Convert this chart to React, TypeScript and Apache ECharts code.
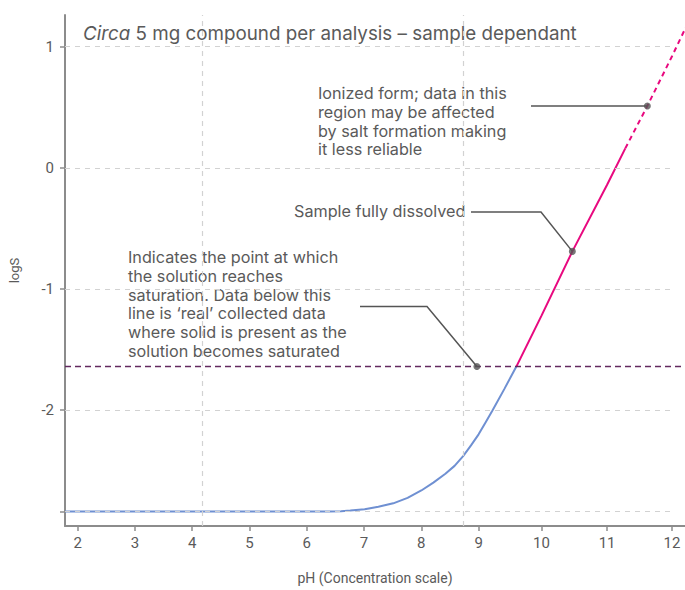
import React, { useEffect, useRef } from "react";
import * as echarts from "echarts";

// pH tick marks and the relative width of each unit step on the concentration scale
const PH_TICKS = [2, 3, 4, 5, 6, 7, 8, 9, 10, 11, 12];
const PH_STEP_WIDTHS = [1, 1, 1, 1, 1, 1, 1, 1.098, 1.145, 1.133];
const PH_RANGE = [1.78, 12.2];
const PH_GRID_END = 12;
const PH_GRID_MARKS = [4.18, 8.73];

// logS axis
const LOGS_RANGE = [-2.955, 1.26];
const LOGS_TICKS = [-2.836, -2, -1, 0, 1];
const LOGS_LABELS = [-2, -1, 0, 1];

// Measured solubility while solid is present (pH, logS)
const SATURATED_CURVE: [number, number][] = [
  [1.78, -2.836], [6.4, -2.836], [6.6, -2.833], [6.76, -2.828], [7.01, -2.817],
  [7.25, -2.797], [7.51, -2.768], [7.76, -2.723], [8.0, -2.662], [8.21, -2.597],
  [8.42, -2.524], [8.58, -2.459], [8.73, -2.378], [8.87, -2.288], [9.0, -2.199],
  [9.11, -2.101], [9.22, -2.003], [9.41, -1.824], [9.6, -1.64],
];
// Fully dissolved sample
const DISSOLVED_LINE: [number, number][] = [
  [9.6, -1.64], [10, -1.22], [10.47, -0.69], [11, -0.14], [11.28, 0.16],
];
// Ionized region, less reliable
const IONIZED_LINE: [number, number][] = [
  [11.28, 0.16], [11.62, 0.51], [12, 0.92], [12.25, 1.2],
];
const SATURATION_LOGS = -1.64;

// Callout anchor points (pH, logS)
const IONIZED_POINT: [number, number] = [11.62, 0.51];
const DISSOLVED_POINT: [number, number] = [10.47, -0.69];
const SATURATION_POINT: [number, number] = [8.97, -1.64];

const TITLE_REST = " 5 mg compound per analysis \u2013 sample dependant";
const IONIZED_TEXT = "Ionized form; data in this\nregion may be affected\nby salt formation making\nit less reliable";
const DISSOLVED_TEXT = "Sample fully dissolved";
const SATURATION_TEXT =
  "Indicates the point at which\nthe solution reaches\nsaturation. Data below this\nline is \u2018real\u2019 collected data\nwhere solid is present as the\nsolution becomes saturated";

const TEXT_FONT = "Inter, 'Noto Sans', sans-serif";
const AXIS_FONT = "'Liberation Sans Narrow', Roboto, sans-serif";
const TEXT_COLOR = "#5a5a5a";
const AXIS_COLOR = "#8c8c8c";
const GRID_COLOR = "#d2d2d2";

// Map pH onto the concentration-scale position
function toScale(ph: number): number {
  if (ph <= PH_TICKS[0]) return ph;
  let s = PH_TICKS[0];
  for (let i = 0; i < PH_STEP_WIDTHS.length; i++) {
    const lo = PH_TICKS[i];
    if (ph <= lo + 1) return s + (ph - lo) * PH_STEP_WIDTHS[i];
    s += PH_STEP_WIDTHS[i];
  }
  return s + (ph - PH_TICKS[PH_TICKS.length - 1]) * PH_STEP_WIDTHS[PH_STEP_WIDTHS.length - 1];
}

function fromScale(s: number): number {
  if (s <= PH_TICKS[0]) return s;
  let acc = PH_TICKS[0];
  for (let i = 0; i < PH_STEP_WIDTHS.length; i++) {
    const w = PH_STEP_WIDTHS[i];
    if (s <= acc + w) return PH_TICKS[i] + (s - acc) / w;
    acc += w;
  }
  return PH_TICKS[PH_TICKS.length - 1] + (s - acc) / PH_STEP_WIDTHS[PH_STEP_WIDTHS.length - 1];
}

const mapPts = (pts: [number, number][]) => pts.map(([ph, v]) => [toScale(ph), v]);

export default function App() {
  const ref = useRef<HTMLDivElement>(null);

  useEffect(() => {
    if (!ref.current) return;
    const chart = echarts.init(ref.current, undefined, { renderer: "svg" });

    const xMin = toScale(PH_RANGE[0]);
    const xMax = toScale(PH_RANGE[1]);
    const xTicks = PH_TICKS.map(toScale);

    const gridLines: any[] = [
      ...LOGS_TICKS.map((v) => [{ coord: [xMin, v] }, { coord: [toScale(PH_GRID_END), v] }]),
      ...PH_GRID_MARKS.map((ph) => [
        { coord: [toScale(ph), LOGS_RANGE[0]] },
        { coord: [toScale(ph), LOGS_RANGE[1]] },
      ]),
    ];

    chart.setOption({
      animation: false,
      grid: { left: 64, right: 0, top: 15, bottom: 57 },
      xAxis: {
        type: "value",
        min: xMin,
        max: xMax,
        name: "pH (Concentration scale)",
        nameLocation: "middle",
        nameGap: 45,
        nameTextStyle: { color: TEXT_COLOR, fontSize: 14, fontFamily: AXIS_FONT },
        axisLine: { show: true, onZero: false, lineStyle: { color: AXIS_COLOR, width: 2 } },
        axisTick: { show: true, customValues: xTicks, length: 5, lineStyle: { color: AXIS_COLOR, width: 1.5 } },
        axisLabel: {
          customValues: xTicks,
          formatter: (v: number) => String(Math.round(fromScale(v))),
          margin: 9,
          color: TEXT_COLOR,
          fontSize: 15,
          fontFamily: AXIS_FONT,
        },
        splitLine: { show: false },
      },
      yAxis: {
        type: "value",
        min: LOGS_RANGE[0],
        max: LOGS_RANGE[1],
        name: "logS",
        nameLocation: "middle",
        nameGap: 44,
        nameTextStyle: { color: TEXT_COLOR, fontSize: 13, fontFamily: AXIS_FONT },
        axisLine: { show: true, onZero: false, lineStyle: { color: AXIS_COLOR, width: 2 } },
        axisTick: { show: true, customValues: LOGS_TICKS, length: 5, lineStyle: { color: AXIS_COLOR, width: 1.5 } },
        axisLabel: {
          customValues: LOGS_LABELS,
          formatter: (v: number) => String(Math.round(v)),
          margin: 11,
          color: TEXT_COLOR,
          fontSize: 15,
          fontFamily: AXIS_FONT,
        },
        splitLine: { show: false },
      },
      series: [
        {
          name: "grid",
          type: "line",
          data: [],
          silent: true,
          z: 0,
          markLine: {
            silent: true,
            symbol: ["none", "none"],
            label: { show: false },
            lineStyle: { color: GRID_COLOR, type: [5, 5], width: 1.2 },
            data: gridLines,
          },
        },
        {
          name: "saturation",
          type: "line",
          data: [],
          silent: true,
          z: 1,
          markLine: {
            silent: true,
            symbol: ["none", "none"],
            label: { show: false },
            lineStyle: { color: "#62295f", type: [6, 4], width: 1.3 },
            data: [{ yAxis: SATURATION_LOGS }],
          },
        },
        {
          name: "saturated",
          type: "line",
          data: mapPts(SATURATED_CURVE),
          showSymbol: false,
          lineStyle: { color: "#6f90d2", width: 2 },
          z: 3,
        },
        {
          name: "dissolved",
          type: "line",
          data: mapPts(DISSOLVED_LINE),
          showSymbol: false,
          lineStyle: { color: "#e8097f", width: 2 },
          z: 3,
        },
        {
          name: "ionized",
          type: "line",
          data: mapPts(IONIZED_LINE),
          showSymbol: false,
          lineStyle: { color: "#e8097f", width: 2, type: [5, 4] },
          z: 3,
        },
        {
          name: "callouts",
          type: "scatter",
          data: mapPts([IONIZED_POINT, DISSOLVED_POINT, SATURATION_POINT]),
          symbolSize: 7,
          itemStyle: { color: "#555555" },
          z: 6,
        },
      ],
    });

    const px = (p: [number, number]) =>
      chart.convertToPixel({ gridIndex: 0 }, [toScale(p[0]), p[1]]) as number[];
    const ion = px(IONIZED_POINT);
    const dis = px(DISSOLVED_POINT);
    const sat = px(SATURATION_POINT);
    const leader = { stroke: "#555555", lineWidth: 1.5, fill: null };

    chart.setOption({
      graphic: [
        {
          type: "text",
          left: 83,
          top: 24,
          style: {
            text: "{i|Circa}" + TITLE_REST,
            fill: TEXT_COLOR,
            font: `18.8px ${TEXT_FONT}`,
            rich: { i: { fontStyle: "italic", fontSize: 18.8, fontFamily: TEXT_FONT, fill: TEXT_COLOR } },
          },
        },
        {
          type: "text",
          left: 318,
          top: 84,
          style: { text: IONIZED_TEXT, fill: TEXT_COLOR, font: `16.2px ${TEXT_FONT}`, lineHeight: 18.7 },
        },
        {
          type: "text",
          left: 294,
          top: 202,
          style: { text: DISSOLVED_TEXT, fill: TEXT_COLOR, font: `16.2px ${TEXT_FONT}`, lineHeight: 18.7 },
        },
        {
          type: "text",
          left: 128,
          top: 248,
          style: { text: SATURATION_TEXT, fill: TEXT_COLOR, font: `16.2px ${TEXT_FONT}`, lineHeight: 18.7 },
        },
        {
          type: "polyline",
          shape: { points: [[531, ion[1]], [ion[0], ion[1]]] },
          style: leader,
          z: 5,
        },
        {
          type: "polyline",
          shape: { points: [[471, 212], [541, 212], [dis[0], dis[1]]] },
          style: leader,
          z: 5,
        },
        {
          type: "polyline",
          shape: { points: [[360, 306.5], [427, 306.5], [sat[0], sat[1]]] },
          style: leader,
          z: 5,
        },
      ],
    });

    return () => chart.dispose();
  }, []);

  return (
    <div
      ref={ref}
      style={{ position: "fixed", left: 0, top: 0, width: 685, height: 590, background: "#ffffff" }}
    />
  );
}
